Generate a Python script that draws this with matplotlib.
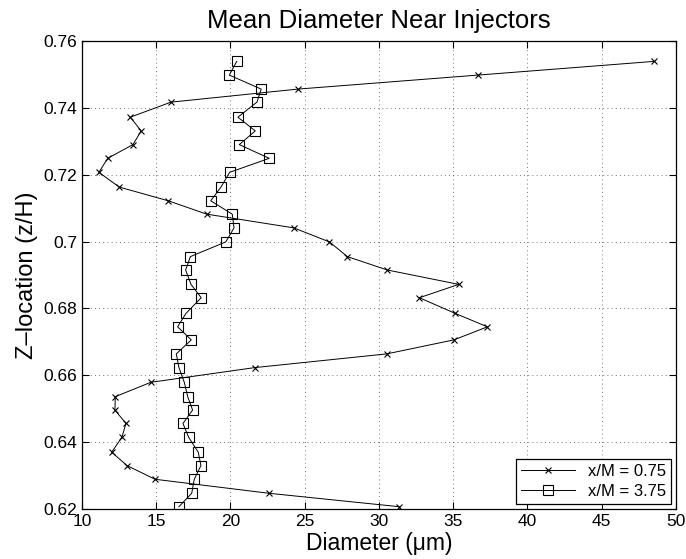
import numpy as np
import matplotlib.pyplot as plt

plt.rcParams['font.family'] = ['Liberation Sans', 'DejaVu Sans']

# z-locations (z/H) of the sampled points
z = [0.7539, 0.7498, 0.7456, 0.7417, 0.7372, 0.7331, 0.7290, 0.7249, 0.7207,
     0.7163, 0.7122, 0.7082, 0.7041, 0.6999, 0.6955, 0.6915, 0.6872, 0.6832,
     0.6785, 0.6745, 0.6706, 0.6664, 0.6623, 0.6579, 0.6536, 0.6496, 0.6456,
     0.6415, 0.6370, 0.6330, 0.6289, 0.6247, 0.6207]

# mean diameter (um) at x/M = 0.75
d_075 = [48.54, 36.67, 24.52, 15.99, 13.25, 13.99, 13.43, 11.73, 11.14,
         12.51, 15.81, 18.40, 24.26, 26.66, 27.87, 30.56, 35.37, 32.72,
         35.14, 37.30, 35.05, 30.52, 21.63, 14.63, 12.24, 12.22, 12.96,
         12.69, 12.00, 13.03, 14.92, 22.61, 31.35]

# mean diameter (um) at x/M = 3.75
d_375 = [20.42, 19.92, 22.07, 21.78, 20.50, 21.67, 20.59, 22.61, 19.94,
         19.36, 18.67, 20.12, 20.24, 19.68, 17.30, 16.98, 17.34, 18.03,
         17.00, 16.44, 17.36, 16.35, 16.53, 16.89, 17.12, 17.45, 16.80,
         17.18, 17.83, 18.01, 17.56, 17.39, 16.53]

fig = plt.figure(figsize=(6.86, 5.59), dpi=100)
ax = fig.add_axes([0.1195, 0.0894, 0.8659, 0.8373])

ax.plot(d_075, z, '-x', color='black', lw=0.7, ms=5, mew=0.8, label='x/M = 0.75')
ax.plot(d_375, z, '-s', color='black', lw=0.7, ms=7, mew=0.8, mfc='none', label='x/M = 3.75')

ax.set_xlim(10, 50)
ax.set_ylim(0.62, 0.76)
ax.set_xticks(np.arange(10, 51, 5))
ax.set_yticks(np.arange(0.62, 0.761, 0.02))
ax.set_yticklabels(['0.62', '0.64', '0.66', '0.68', '0.7', '0.72', '0.74', '0.76'])
ax.tick_params(direction='in', top=True, right=True, labelsize=12.5, length=5, width=0.8)
ax.grid(True, linestyle=(0, (1, 4)), color='black', lw=0.6, alpha=0.7)
for s in ax.spines.values():
    s.set_linewidth(0.9)

ax.set_title('Mean Diameter Near Injectors', fontsize=18.5, pad=9)
ax.set_xlabel('Diameter (μm)', fontsize=16.5, labelpad=2)
ax.set_ylabel('Z\u2013location (z/H)', fontsize=17, labelpad=4)

leg = ax.legend(loc='lower right', fontsize=12, fancybox=False, framealpha=1,
                edgecolor='black', borderaxespad=0.3, handlelength=3.2,
                borderpad=0.3, labelspacing=0.3)
leg.get_frame().set_linewidth(0.9)

fig.savefig('out.png', dpi=100)
